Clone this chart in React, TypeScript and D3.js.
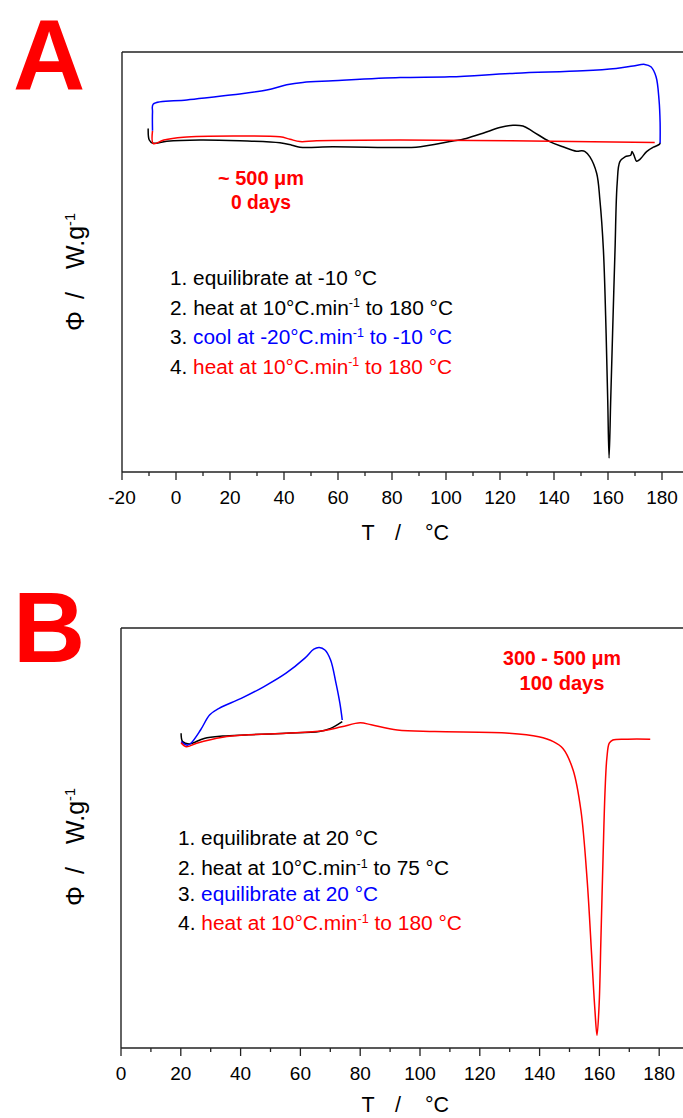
import React from "react";
import * as d3 from "d3";

type Pt = [number, number];

// ---------- Panel A data (T in °C, Φ in arbitrary W/g units) ----------
const blackA: Pt[] = [
  [-10.3, 0.19], [-9.9, -0.1], [-8.6, -0.18], [-3.4, -0.13], [8.9, -0.1], [23.7, -0.12],
  [38.5, -0.17], [42.9, -0.23], [45.9, -0.28], [58.1, -0.27], [83.0, -0.29], [88.9, -0.28],
  [101.4, -0.14], [107.5, -0.06], [113.7, 0.07], [119.9, 0.21], [124.8, 0.27], [128.5, 0.25],
  [132.2, 0.11], [138.4, -0.14], [143.3, -0.27], [148.3, -0.38], [150.3, -0.37], [151.5, -0.39],
  [153.3, -0.52], [155.8, -0.93], [157.0, -1.6], [158.3, -2.85], [159.3, -4.93], [159.9, -6.6],
  [160.4, -8.05], [161.0, -6.6], [161.7, -4.93], [162.6, -2.85], [163.4, -1.18], [164.4, -0.64],
  [166.3, -0.52], [168.4, -0.48], [168.9, -0.39], [169.6, -0.48], [170.6, -0.63], [171.9, -0.58],
  [174.3, -0.39], [176.8, -0.28], [179.0, -0.21], [179.3, -0.17],
];
const blueA: Pt[] = [
  [179.3, -0.18], [179.3, 0.33], [178.9, 0.9], [177.8, 1.48], [175.9, 1.73], [173.6, 1.79],
  [169.3, 1.75], [163.0, 1.69], [150.7, 1.63], [125.9, 1.57], [101.4, 1.48], [83.0, 1.46],
  [58.1, 1.38], [47.0, 1.34], [41.0, 1.28], [33.6, 1.15], [21.1, 1.03], [4.0, 0.9],
  [-8.4, 0.8], [-8.7, 0.6], [-8.7, 0.13],
];
const redA: Pt[] = [
  [-8.7, 0.13], [-8.4, -0.19], [-4.5, -0.1], [2.7, -0.03], [21.2, 0.0], [38.5, -0.02],
  [42.2, -0.08], [45.9, -0.14], [52.1, -0.12], [83, -0.1], [124, -0.12], [177.3, -0.16],
];

// ---------- Panel B data ----------
const blackB: Pt[] = [
  [20.1, 0.07], [20.6, -0.14], [22.8, -0.2], [27.8, -0.06], [34.0, 0.0], [42.7, 0.03],
  [55.2, 0.07], [66.3, 0.11], [70.1, 0.19], [74.0, 0.36],
];
const blueB: Pt[] = [
  [20.1, -0.14], [22.2, -0.23], [23.4, -0.18], [26.6, 0.15], [29.7, 0.53], [32.8, 0.69],
  [40.2, 0.94], [47.7, 1.23], [55.2, 1.57], [61.4, 1.94], [64.5, 2.17], [66.3, 2.21],
  [68.2, 2.15], [70.1, 1.9], [71.9, 1.32], [73.2, 0.82], [74.0, 0.4],
];
const redB: Pt[] = [
  [20.1, -0.17], [21.8, -0.27], [25.3, -0.18], [34.0, -0.03], [42.7, 0.03], [55.2, 0.07],
  [67.6, 0.13], [73.8, 0.23], [80.0, 0.33], [83.7, 0.28], [92.4, 0.15], [104.9, 0.11],
  [129.8, 0.07], [139.7, -0.02], [144.6, -0.14], [147.8, -0.31], [151.2, -0.85], [153.8, -1.85],
  [155.9, -3.6], [157.5, -5.6], [158.5, -6.85], [159.2, -7.48], [159.9, -6.73], [160.5, -5.1],
  [161.2, -3.1], [161.9, -1.35], [162.5, -0.55], [163.3, -0.18], [164.5, -0.1], [169.5, -0.08],
  [177.0, -0.08],
];

// ---------- ticks ----------
const majorTicksA = [-20, 0, 20, 40, 60, 80, 100, 120, 140, 160, 180];
const minorTicksA = [-10, 10, 30, 50, 70, 90, 110, 130, 150, 170, 190];
const majorTicksB = [0, 20, 40, 60, 80, 100, 120, 140, 160, 180];
const minorTicksB = [10, 30, 50, 70, 90, 110, 130, 150, 170, 190];

const FONT = "'Liberation Sans', Arial, Helvetica, sans-serif";
const RED = "#ff0000";
const BLUE = "#0000ff";
const W = 683;
const H = 1118;

type Seg = { t: string; c?: string; sup?: boolean };

const legendA: Seg[][] = [
  [{ t: "1. equilibrate at -10 °C" }],
  [{ t: "2. heat at 10°C.min" }, { t: "-1", sup: true }, { t: " to 180 °C" }],
  [{ t: "3. " }, { t: "cool at -20°C.min", c: BLUE }, { t: "-1", c: BLUE, sup: true }, { t: " to -10 °C", c: BLUE }],
  [{ t: "4. " }, { t: "heat at 10°C.min", c: RED }, { t: "-1", c: RED, sup: true }, { t: " to 180 °C", c: RED }],
];
const legendB: Seg[][] = [
  [{ t: "1. equilibrate at 20 °C" }],
  [{ t: "2. heat at 10°C.min" }, { t: "-1", sup: true }, { t: " to 75 °C" }],
  [{ t: "3. " }, { t: "equilibrate at 20 °C", c: BLUE }],
  [{ t: "4. " }, { t: "heat at 10°C.min", c: RED }, { t: "-1", c: RED, sup: true }, { t: " to 180 °C", c: RED }],
];

function renderSegs(segs: Seg[]) {
  const out: React.ReactNode[] = [];
  let raised = false;
  segs.forEach((s, i) => {
    let dy = 0;
    if (s.sup && !raised) { dy = -7.5; raised = true; }
    else if (!s.sup && raised) { dy = 7.5; raised = false; }
    out.push(
      <tspan key={i} dy={dy || undefined} fill={s.c || "#000"} fontSize={s.sup ? 12 : undefined}>
        {s.t}
      </tspan>
    );
  });
  return out;
}

type PanelProps = {
  letter: string;
  letterY: number;
  xDomain: [number, number];
  xRange: [number, number];
  yDomain: [number, number];
  top: number;
  bottom: number;
  series: { data: Pt[]; color: string }[];
  major: number[];
  minor: number[];
  legend: Seg[][];
  legendX: number;
  legendY: number[];
  legendLen: number[];
  note: string[];
  noteX: number;
  noteY: number[];
  noteLen: number[];
  yLabelStart: number;
  titleDy: number;
};

function Panel(p: PanelProps) {
  const x = d3.scaleLinear().domain(p.xDomain).range(p.xRange);
  const y = d3.scaleLinear().domain(p.yDomain).range([p.bottom, p.top]);
  const line = d3
    .line<Pt>()
    .x((d) => x(d[0]))
    .y((d) => y(d[1]))
    .curve(d3.curveCatmullRom.alpha(0.5));
  const left = p.xRange[0];
  const axisColor = "#222";
  const s = p.yLabelStart;
  return (
    <g>
      <text x={49} y={p.letterY} fontSize={100} fontWeight="bold" fill={RED} textAnchor="middle" fontFamily={FONT}>
        {p.letter}
      </text>
      {/* frame */}
      <line x1={left} x2={W + 5} y1={p.top} y2={p.top} stroke={axisColor} strokeWidth={1.4} />
      <line x1={left} x2={W + 5} y1={p.bottom} y2={p.bottom} stroke={axisColor} strokeWidth={1.4} />
      <line x1={left} x2={left} y1={p.top} y2={p.bottom} stroke={axisColor} strokeWidth={1.4} />
      {p.major.map((t) => (
        <g key={"M" + t}>
          <line x1={x(t)} x2={x(t)} y1={p.bottom} y2={p.bottom + 8} stroke={axisColor} strokeWidth={1.3} />
          <text x={x(t)} y={p.bottom + 31.5} fontSize={19} textAnchor="middle" fontFamily={FONT} fill="#000">
            {t}
          </text>
        </g>
      ))}
      {p.minor.map((t) => (
        <line key={"m" + t} x1={x(t)} x2={x(t)} y1={p.bottom} y2={p.bottom + 4} stroke={axisColor} strokeWidth={1.3} />
      ))}
      {/* axis title */}
      <g fontFamily={FONT} fontSize={21.5} fill="#000" textAnchor="middle">
        <text x={368} y={p.bottom + p.titleDy}>T</text>
        <text x={398} y={p.bottom + p.titleDy}>/</text>
        <text x={437} y={p.bottom + p.titleDy}>°C</text>
      </g>
      {/* y label */}
      <g transform="translate(84,0) rotate(-90)" fontFamily={FONT} fontSize={25} fill="#000">
        <text x={-s} y={0}>Φ</text>
        <text x={-s + 32} y={0}>/</text>
        <text x={-s + 62} y={0}>
          W.g<tspan dy={-9.5} fontSize={14.5}>-1</tspan>
        </text>
      </g>
      {/* curves */}
      {p.series.map((sr, i) => (
        <path key={i} d={line(sr.data) || ""} fill="none" stroke={sr.color} strokeWidth={1.5} strokeLinejoin="round" />
      ))}
      {/* note */}
      {p.note.map((n, i) => (
        <text
          key={"n" + i}
          x={p.noteX - p.noteLen[i] / 2}
          y={p.noteY[i]}
          fontFamily={FONT}
          fontWeight="bold"
          fontSize={19.5}
          fill={RED}
          textLength={p.noteLen[i]}
          lengthAdjust="spacingAndGlyphs"
        >
          {n}
        </text>
      ))}
      {/* legend */}
      {p.legend.map((segs, i) => (
        <text
          key={"l" + i}
          x={p.legendX}
          y={p.legendY[i]}
          fontFamily={FONT}
          fontSize={20}
          style={{ whiteSpace: "pre" }}
          textLength={p.legendLen[i]}
          lengthAdjust="spacingAndGlyphs"
        >
          {renderSegs(segs)}
        </text>
      ))}
    </g>
  );
}

export default function App() {
  return (
    <svg
      width={W}
      height={H}
      viewBox={`0 0 ${W} ${H}`}
      style={{ position: "absolute", left: 0, top: 0, display: "block", background: "#fff" }}
    >
      <rect x={0} y={0} width={W} height={H} fill="#fff" />
      <Panel
        letter="A"
        letterY={90}
        xDomain={[-20, 190]}
        xRange={[122, 689]}
        yDomain={[-8.4, 2.1]}
        top={52}
        bottom={472}
        series={[
          { data: blackA, color: "#000" },
          { data: redA, color: RED },
          { data: blueA, color: BLUE },
        ]}
        major={majorTicksA}
        minor={minorTicksA}
        legend={legendA}
        legendX={170}
        legendY={[285, 314.5, 344, 373.5]}
        legendLen={[207, 283, 282, 282]}
        note={["~ 500 μm", "0 days"]}
        noteX={261}
        noteY={[185, 209]}
        noteLen={[86, 60]}
        yLabelStart={331}
        titleDy={68}
      />
      <Panel
        letter="B"
        letterY={662}
        xDomain={[0, 190]}
        xRange={[121, 689.1]}
        yDomain={[-7.8, 2.7]}
        top={628}
        bottom={1048}
        series={[
          { data: blackB, color: "#000" },
          { data: blueB, color: BLUE },
          { data: redB, color: RED },
        ]}
        major={majorTicksB}
        minor={minorTicksB}
        legend={legendB}
        legendX={178}
        legendY={[845, 875, 901, 930]}
        legendLen={[200, 271, 200, 284]}
        note={["300 - 500 μm", "100 days"]}
        noteX={562}
        noteY={[665, 690]}
        noteLen={[118, 85]}
        yLabelStart={906}
        titleDy={64}
      />
    </svg>
  );
}
